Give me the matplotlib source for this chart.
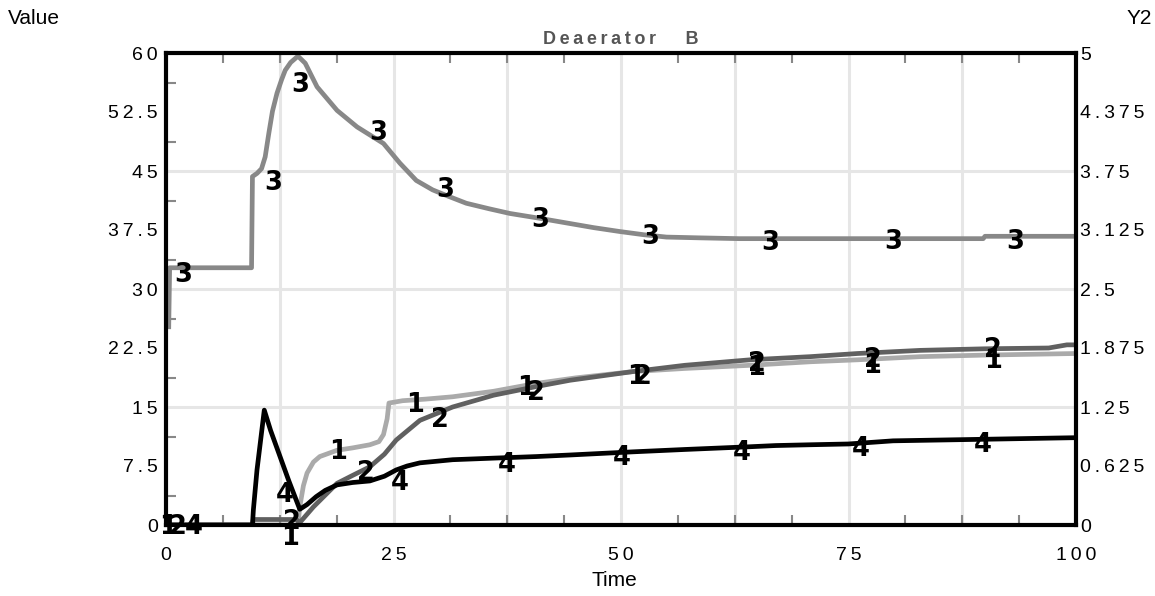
import numpy as np
import matplotlib.pyplot as plt

# series (x = Time, y = Value)
t1 = [0, 14.5, 14.7, 15.1, 15.5, 16.2, 16.9, 18.8, 20.5, 22.4, 23.4, 23.9, 24.3, 24.5,
      26.0, 28.5, 31.5, 36.0, 40.7, 45.0, 51.3, 57.0, 64.2, 70.8, 76.0, 82.9, 90.0, 100]
v1 = [0, 0, 2.3, 5.0, 6.6, 8.0, 8.7, 9.5, 9.8, 10.2, 10.6, 11.5, 13.5, 15.5,
      15.8, 16.0, 16.3, 17.0, 18.0, 18.7, 19.5, 19.9, 20.3, 20.75, 21.0, 21.4, 21.6, 21.8]

t2 = [0, 9.5, 9.6, 14.3, 14.7, 16.2, 18.8, 20.5, 22.4, 24.0, 25.3, 27.9, 31.5, 36.0,
      40.7, 44.4, 51.3, 57.0, 64.2, 70.8, 76.0, 82.9, 90.0, 97.0, 99.0, 100]
v2 = [0, 0, 0.7, 0.7, 0.3, 2.3, 5.3, 6.3, 7.4, 9.0, 10.8, 13.3, 15.0, 16.5,
      17.6, 18.4, 19.5, 20.3, 21.0, 21.4, 21.8, 22.2, 22.4, 22.5, 22.9, 22.9]

t3 = [0.3, 0.4, 9.4, 9.5, 10.0, 10.5, 10.9, 11.3, 11.7, 12.2, 12.7, 13.1, 13.7, 14.5,
      15.3, 16.6, 18.8, 21.0, 23.9, 25.7, 27.5, 29.3, 31.0, 33.0, 35.5, 37.8, 41.0,
      44.0, 47.0, 49.9, 52.5, 55.0, 58.7, 63.0, 70.0, 80.0, 89.8, 90.0, 100.0]
v3 = [25.2, 32.7, 32.7, 44.3, 44.7, 45.3, 46.8, 49.8, 52.6, 54.9, 56.6, 57.8, 58.8, 59.6,
      58.7, 55.7, 52.7, 50.6, 48.5, 46.0, 43.8, 42.6, 41.8, 40.9, 40.2, 39.6, 39.0,
      38.4, 37.8, 37.3, 36.9, 36.6, 36.5, 36.4, 36.4, 36.4, 36.4, 36.7, 36.7]

t4 = [0, 9.5, 9.6, 10.0, 10.8, 11.5, 12.5, 13.5, 14.7, 15.5, 16.5, 17.5, 18.8, 20.5,
      22.4, 24.0, 25.3, 26.5, 27.9, 31.5, 36.0, 40.7, 44.4, 51.3, 57.0, 64.2, 67.0,
      70.8, 75.0, 79.9, 90.0, 100]
v4 = [0, 0, 1.9, 7.0, 14.6, 12.0, 8.8, 5.6, 2.0, 2.6, 3.6, 4.4, 5.1, 5.4,
      5.6, 6.2, 7.0, 7.5, 7.9, 8.3, 8.5, 8.7, 8.9, 9.3, 9.6, 9.95, 10.1,
      10.2, 10.3, 10.7, 10.9, 11.1]

# number labels that sit along each line
lab1_x = [0.2, 13.6, 18.9, 27.4, 39.6, 51.7, 64.8, 77.6, 90.9]
lab1_y = [-0.3, -1.6, 9.3, 15.2, 17.4, 18.8, 19.9, 20.2, 20.9]
lab2_x = [1.3, 13.8, 22.0, 30.1, 40.7, 52.4, 64.9, 77.7, 90.9]
lab2_y = [-0.3, 0.4, 6.6, 13.3, 16.8, 18.8, 20.5, 21.0, 22.2]
lab3_x = [1.9, 11.8, 14.7, 23.3, 30.7, 41.1, 53.2, 66.4, 79.9, 93.3]
lab3_y = [31.8, 43.5, 55.9, 49.8, 42.6, 38.8, 36.6, 35.8, 36.0, 36.0]
lab4_x = [3.0, 13.1, 25.7, 37.4, 50.1, 63.3, 76.3, 89.8]
lab4_y = [-0.3, 3.8, 5.3, 7.6, 8.5, 9.1, 9.7, 10.2]

x_labels = [0, 25, 50, 75, 100]
y_labels = [0, 7.5, 15, 22.5, 30, 37.5, 45, 52.5, 60]
y2_labels = [0, 0.625, 1.25, 1.875, 2.5, 3.125, 3.75, 4.375, 5]

plt.rcParams['font.family'] = ['Liberation Sans', 'DejaVu Sans']

def spaced(s):
    return '\u2009'.join(s)

fig = plt.figure(figsize=(11.55, 5.96), dpi=100)
ax = fig.add_axes([166/1155, 71/596, 910/1155, 472/596])
ax.set_xlim(0, 100)
ax.set_ylim(0, 60)

for g in [15, 30, 45]:
    ax.axhline(g, color='#e6e6e6', lw=2.2, zorder=0)
for g in np.arange(12.5, 100, 12.5):
    ax.axvline(g, color='#e6e6e6', lw=2.2, zorder=0)

ax.plot(t1, v1, color='#aaaaaa', lw=3.4, zorder=2)
ax.plot(t2, v2, color='#606060', lw=3.4, zorder=3)
ax.plot(t3, v3, color='#888888', lw=3.4, zorder=2)
ax.plot(t4, v4, color='black', lw=3.4, zorder=4)

for xs, ys, name in [(lab1_x, lab1_y, '1'), (lab2_x, lab2_y, '2'),
                     (lab3_x, lab3_y, '3'), (lab4_x, lab4_y, '4')]:
    for x, y in zip(xs, ys):
        ax.text(x, y, name, fontsize=18.5, fontweight='bold', family='DejaVu Sans',
                ha='center', va='center', color='black', zorder=6, clip_on=False)

for sp in ax.spines.values():
    sp.set_linewidth(3)
    sp.set_zorder(5)

ax.set_xticks(x_labels)
ax.set_xticklabels([spaced('%g' % v) for v in x_labels], fontsize=14)
ax.set_yticks(y_labels)
ax.set_yticklabels([spaced('%g' % v) for v in y_labels], fontsize=14)
ax.tick_params(axis='x', which='major', length=0, pad=16)
ax.tick_params(axis='y', which='major', length=0, pad=6)
ax.set_xticks(np.arange(0, 100.1, 6.25), minor=True)
ax.set_yticks(np.arange(3.75, 60, 7.5), minor=True)
ax.tick_params(which='minor', direction='in', length=7, width=1.5, color='#888888',
               top=True, right=True)

ax2 = ax.twinx()
ax2.set_ylim(0, 5)
ax2.set_yticks(y2_labels)
ax2.set_yticklabels([spaced('%g' % v) for v in y2_labels], fontsize=14)
ax2.tick_params(axis='y', length=0, pad=3)
for sp in ax2.spines.values():
    sp.set_visible(False)

fig.text(621/1155, 1 - 40/596, spaced('Deaerator   B'), ha='center', va='center',
         fontsize=13, fontweight='bold', color='#555555')
fig.text(8/1155, 1 - 18/596, 'Value', ha='left', va='center', fontsize=15)
fig.text(1127/1155, 1 - 18/596, 'Y2', ha='left', va='center', fontsize=15)
fig.text(614/1155, 1 - 581/596, 'Time', ha='center', va='center', fontsize=15)

fig.savefig('out.png', dpi=100)
